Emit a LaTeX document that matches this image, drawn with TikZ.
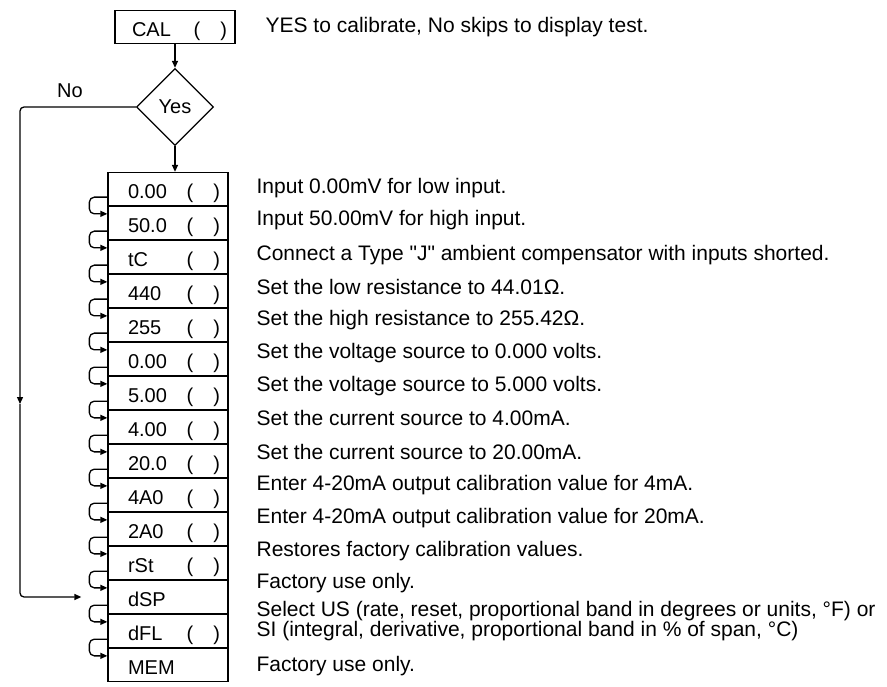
\documentclass[tikz,border=0pt]{standalone}
\usepackage{fontspec}
\setmainfont{Liberation Sans}[Ligatures=TeXOff]
\usetikzlibrary{calc}
\usetikzlibrary{shapes.geometric}
\usetikzlibrary{arrows.meta}

\newcommand{\withpar}[1]{\hspace*{12pt}#1\hfill(\hspace{20pt})}
\newcommand{\nopar}[1]{\hspace*{12pt}#1}

\tikzset{
  calbox/.style={draw,rectangle,inner xsep=8pt,inner ysep=0pt,text width=104pt,
    align=left,text height=26pt,text depth=7pt},
  ask/.style={draw,diamond,aspect=1,minimum size=77pt,inner sep=0pt},
  note/.style={anchor=west,inner sep=0pt,font=\fontsize{21}{19}\selectfont},
  flow/.style={-{Triangle[length=7pt,width=6pt]}},
  hook/.style={flow,rounded corners=5pt}
}

\begin{document}
\begin{tikzpicture}[x=1pt,y=-1pt,line width=1.3pt,font=\fontsize{20}{24}\selectfont]
        \useasboundingbox (0,0) rectangle (887,687);

        \node[calbox] (cal) at (175,27) {\hspace*{9pt}CAL\hfill(\hspace{20pt})};
        \node[ask] (yes) at (175,107) {Yes};
        \node (no) at (70,91) {No};
        \coordinate (nomid) at (20,404);

        % display stack
        \node[calbox] (b1) at (168,189) {\withpar{0.00}};
        \node[calbox] (b2) at (168,223) {\withpar{50.0}};
        \node[calbox] (b3) at (168,257) {\withpar{tC}};
        \node[calbox] (b4) at (168,291) {\withpar{440}};
        \node[calbox] (b5) at (168,325) {\withpar{255}};
        \node[calbox] (b6) at (168,359) {\withpar{0.00}};
        \node[calbox] (b7) at (168,393) {\withpar{5.00}};
        \node[calbox] (b8) at (168,427) {\withpar{4.00}};
        \node[calbox] (b9) at (168,461) {\withpar{20.0}};
        \node[calbox] (b10) at (168,495) {\withpar{4A0}};
        \node[calbox] (b11) at (168,529) {\withpar{2A0}};
        \node[calbox] (b12) at (168,563) {\withpar{rSt}};
        \node[calbox] (b13) at (168,597) {\nopar{dSP}};
        \node[calbox] (b14) at (168,631) {\withpar{dFL}};
        \node[calbox] (b15) at (168,665) {\nopar{MEM}};

        % notes
        \node[note] (tcal) at (265,27) {YES to calibrate, No skips to display test.};
        \node[note] (t1) at (256,188) {Input 0.00mV for low input.};
        \node[note] (t2) at (256,220) {Input 50.00mV for high input.};
        \node[note] (t3) at (256,255) {Connect a Type "J" ambient compensator with inputs shorted.};
        \node[note] (t4) at (256,287) {Set the low resistance to 44.01Ω.};
        \node[note] (t5) at (256,320) {Set the high resistance to 255.42Ω.};
        \node[note] (t6) at (256,353) {Set the voltage source to 0.000 volts.};
        \node[note] (t7) at (256,386) {Set the voltage source to 5.000 volts.};
        \node[note] (t8) at (256,418) {Set the current source to 4.00mA.};
        \node[note] (t9) at (256,452) {Set the current source to 20.00mA.};
        \node[note] (t10) at (256,485) {Enter 4-20mA output calibration value for 4mA.};
        \node[note] (t11) at (256,518) {Enter 4-20mA output calibration value for 20mA.};
        \node[note] (t12) at (256,551) {Restores factory calibration values.};
        \node[note] (t13) at (256,583) {Factory use only.};
        \node[note,align=left] (t14) at (256,621)
          {Select US (rate, reset, proportional band in degrees or units, °F) or\\
           SI (integral, derivative, proportional band in \% of span, °C)};
        \node[note] (t15) at (256,666) {Factory use only.};

        % arrows
        \draw[flow] (cal) -- (yes);
        \draw[flow] (yes.south) -- (yes.south |- b1.north);
        \draw[flow,rounded corners=4pt] (yes.west) -| (nomid);
        \draw[flow,rounded corners=4pt] (nomid) |- ([xshift=-26pt]b13.west);
        \foreach \i [count=\j from 2] in {1,...,14}
          \draw[hook] ([yshift=9pt]b\i.south west) -- ++(-18pt,0pt) |- ([yshift=-8pt]b\j.north west);
\end{tikzpicture}
\end{document}
